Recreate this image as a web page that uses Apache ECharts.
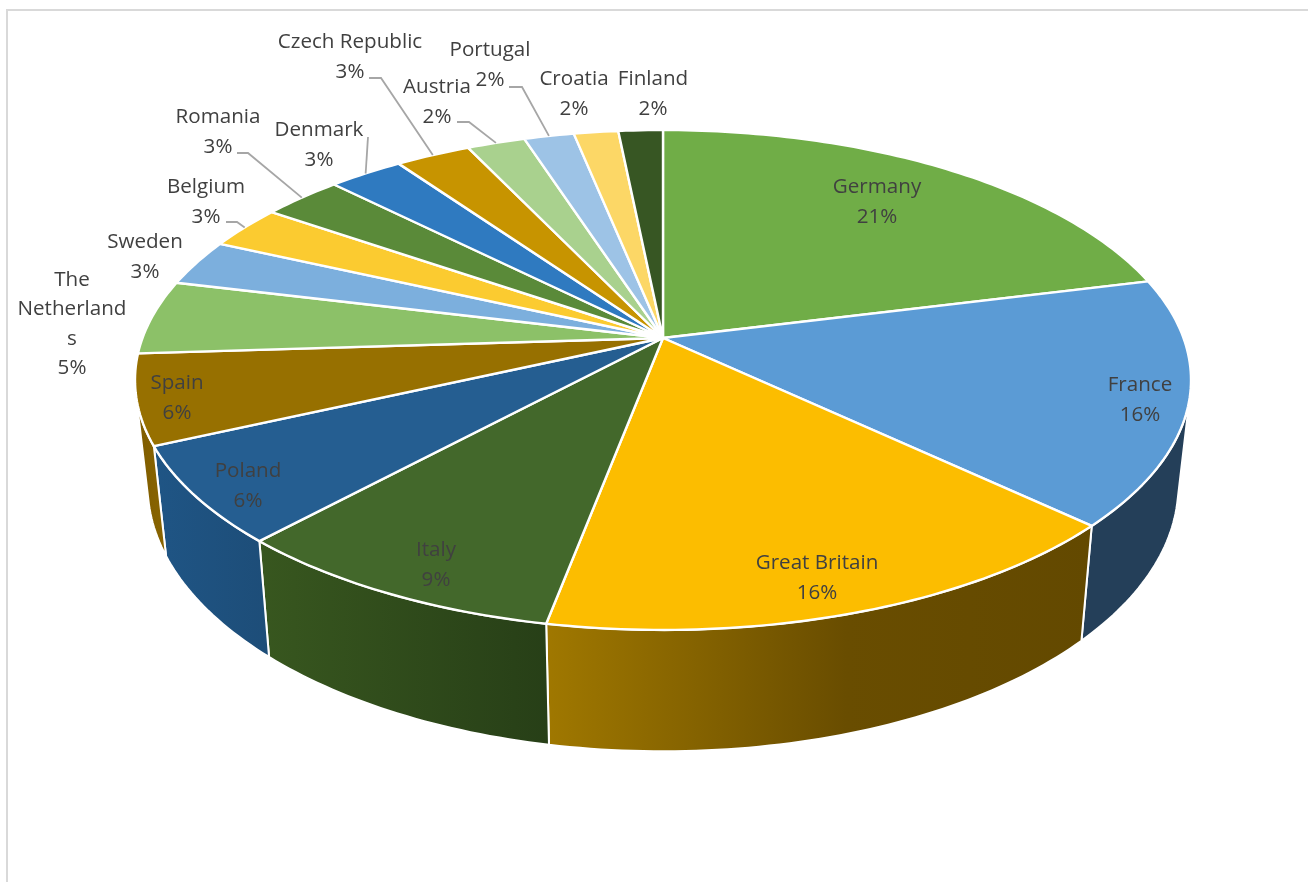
<!DOCTYPE html>
<html>
<head>
<meta charset="utf-8">
<title>Share by country</title>
<script src="https://cdn.jsdelivr.net/npm/echarts@6/dist/echarts.min.js"></script>
<style>
  html, body { margin: 0; padding: 0; background: #fff; }
  #chart { width: 1308px; height: 882px; }
</style>
</head>
<body>
<div id="chart"></div>
<script>
// Slices run clockwise from twelve o'clock.
const countries = ['Germany', 'France', 'Great Britain', 'Italy', 'Poland', 'Spain',
  'The\nNetherland\ns', 'Sweden', 'Belgium', 'Romania', 'Denmark', 'Czech Republic',
  'Austria', 'Portugal', 'Croatia', 'Finland'];
const shares = [21.1, 15.9, 16, 8.9, 6.3, 5.8, 4.8, 3, 2.8, 2.9, 2.7, 2.7, 2.1, 1.8, 1.6, 1.6];

const faceColors = ['#70AD47', '#5B9BD5', '#FCBD00', '#43682B', '#255E91', '#977000',
  '#8CC168', '#7CAFDD', '#FBCB30', '#5A8A39', '#2F7AC0', '#C79400',
  '#A9D18E', '#9DC3E6', '#FCD766', '#375623'];

// Rim shading for the slices that face the viewer.
const wallStops = {
  1: [[0, '#243F59'], [1, '#243F59']],
  2: [[0, '#A07800'], [0.55, '#694D00'], [1, '#634900']],
  3: [[0, '#38571F'], [1, '#273F17']],
  4: [[0, '#1F5585'], [1, '#1D4D78']],
  5: [[0, '#7E5C00'], [1, '#8A6500']]
};

// Centre of each label block, in page pixels.
const labelCentres = [[877, 202], [1140, 400], [817, 578], [436, 565], [248, 486], [177, 398],
  [72, 324], [145, 257], [206, 202], [218, 132], [319, 145], [350, 57],
  [437, 102], [490, 65], [574, 94], [653, 94]];

// Leader line start and elbow; the far end sits on the rim at the slice's middle.
const leaderStarts = {
  8: [[226, 222], [237, 222]],
  9: [[237, 153], [248, 153]],
  10: [[368, 137]],
  11: [[369, 78], [381, 78]],
  12: [[457, 122], [469, 122]],
  13: [[509, 87], [522, 87]]
};

// Perspective of the disc: apex, half-width, vertical scale and foreshortening.
const view = { cx: 663, cy: 338, a: 520.5, c: 242.9, k: 0.168 };
// The lower rim is the upper rim narrowed slightly and pushed down.
const depth = { sx: 0.976, sy: 1.0625, dy: 82 };

const total = shares.reduce((s, v) => s + v, 0);
const angleAt = frac => frac * Math.PI * 2;
const cumulative = shares.reduce((acc, v) => { acc.push(acc[acc.length - 1] + v); return acc; }, [0]);

function rimTop(theta) {
  const u = Math.sin(theta), v = Math.cos(theta), d = 1 + view.k * v;
  return [view.cx + view.a * u / d, view.cy - view.c * v / d];
}
function rimBottom(theta) {
  const p = rimTop(theta);
  return [view.cx + depth.sx * (p[0] - view.cx), depth.sy * p[1] + depth.dy];
}
// A rim point is on the visible wall when the edge going down lies on the outer side of the rim.
function wallFaces(theta) {
  const e = 0.001, p = rimTop(theta), q = rimTop(theta + e), b = rimBottom(theta);
  return (q[0] - p[0]) * (b[1] - p[1]) - (q[1] - p[1]) * (b[0] - p[0]) < 0;
}
function sweep(from, to) {
  const n = Math.max(2, Math.ceil((to - from) / (Math.PI / 180)));
  const out = [];
  for (let i = 0; i <= n; i++) out.push(from + (to - from) * i / n);
  return out;
}
function sliceRange(i) {
  return [angleAt(cumulative[i] / total), angleAt(cumulative[i + 1] / total)];
}

function renderWall(params) {
  const i = params.dataIndex, r = sliceRange(i);
  const visible = sweep(r[0], r[1]).filter(wallFaces);
  if (visible.length < 2) return null;
  const points = visible.map(rimTop).concat(visible.slice().reverse().map(rimBottom));
  const stops = wallStops[i] || [[0, faceColors[i]], [1, faceColors[i]]];
  return {
    type: 'polygon',
    shape: { points },
    style: {
      fill: {
        type: 'linear', x: 0, y: 0, x2: 1, y2: 0,
        colorStops: stops.map(s => ({ offset: s[0], color: s[1] }))
      },
      stroke: '#fff', lineWidth: 2, lineJoin: 'round'
    }
  };
}

function renderFace(params) {
  const i = params.dataIndex, r = sliceRange(i);
  const points = [[view.cx, view.cy]].concat(sweep(r[0], r[1]).map(rimTop));
  return {
    type: 'polygon',
    shape: { points },
    style: { fill: faceColors[i], stroke: '#fff', lineWidth: 2.4, lineJoin: 'round' }
  };
}

function renderLabel(params, api) {
  const i = params.dataIndex, c = labelCentres[i];
  const children = [];
  const text = countries[i] + '\n' + Math.round(api.value(1) / total * 100) + '%';
  children.push({
    type: 'text',
    style: {
      text, x: c[0], y: c[1], align: 'center', verticalAlign: 'middle',
      fontFamily: 'Open Sans', fontSize: 20.6, lineHeight: 29.5, fill: '#404040'
    }
  });
  if (leaderStarts[i]) {
    const r = sliceRange(i);
    children.push({
      type: 'polyline',
      shape: { points: leaderStarts[i].concat([rimTop((r[0] + r[1]) / 2)]) },
      style: { fill: null, stroke: '#A6A6A6', lineWidth: 1.8 }
    });
  }
  return { type: 'group', children };
}

const rows = shares.map((v, i) => [i, v]);
const layer = (name, renderItem, z) => ({
  type: 'custom', name, coordinateSystem: 'none', data: rows, renderItem, z,
  silent: true, animation: false, clip: false
});

const chart = echarts.init(document.getElementById('chart'), null, { renderer: 'canvas' });
chart.setOption({
  animation: false,
  backgroundColor: '#fff',
  graphic: [{
    type: 'polyline',
    shape: { points: [[7, 882], [7, 10], [1308, 10]] },
    style: { fill: null, stroke: '#D9D9D9', lineWidth: 2 },
    silent: true
  }],
  series: [
    layer('rim', renderWall, 2),
    layer('faces', renderFace, 3),
    layer('labels', renderLabel, 4)
  ]
});
</script>
</body>
</html>
